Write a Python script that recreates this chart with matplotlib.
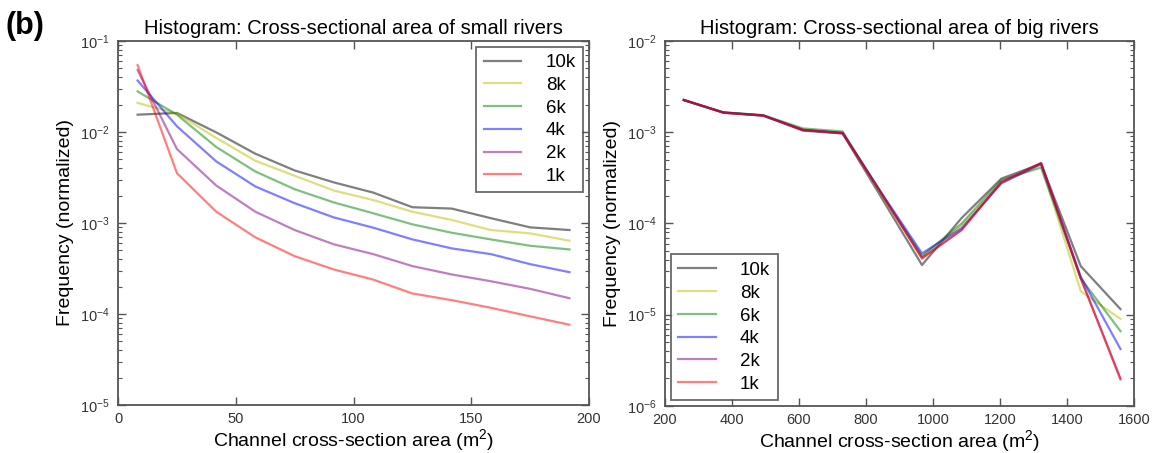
import matplotlib
matplotlib.use("Agg")
import matplotlib.pyplot as plt
from matplotlib.ticker import LogLocator, NullFormatter

plt.rcParams["font.family"] = ["Liberation Sans", "DejaVu Sans"]
plt.rcParams["mathtext.default"] = "regular"

# bin centres (m^2)
small_x = [8.3, 25.0, 41.7, 58.3, 75.0, 91.7, 108.3, 125.0, 141.7, 158.3, 175.0, 191.7]
big_x = [256, 374.5, 493, 611.5, 730, 848.5, 967, 1085.5, 1204, 1322.5, 1441, 1559.5]

labels = ["10k", "8k", "6k", "4k", "2k", "1k"]
colors = ["k", "y", "g", "b", "purple", "r"]

# normalized frequency, small rivers
small_10k = [0.0155, 0.0162, 0.0099, 0.00577, 0.00378, 0.00279, 0.00216, 0.00149, 0.00144, 0.00113, 0.000895, 0.000837]
small_8k = [0.0209, 0.0159, 0.0086, 0.00483, 0.0033, 0.00227, 0.00179, 0.00133, 0.00108, 0.000837, 0.000769, 0.000638]
small_6k = [0.0279, 0.0155, 0.00684, 0.00368, 0.00235, 0.00168, 0.00128, 0.000966, 0.000781, 0.00066, 0.000562, 0.000512]
small_4k = [0.0368, 0.01155, 0.00475, 0.00252, 0.00165, 0.00115, 0.000889, 0.00066, 0.000526, 0.000455, 0.000353, 0.000288]
small_2k = [0.0479, 0.0065, 0.00258, 0.00133, 0.000837, 0.000582, 0.000455, 0.000336, 0.000272, 0.000229, 0.000189, 0.000149]
small_1k = [0.0543, 0.00353, 0.00133, 0.000695, 0.000432, 0.000308, 0.000239, 0.000168, 0.000142, 0.000117, 0.0000942, 0.0000762]

# normalized frequency, big rivers
big_10k = [2.25e-3, 1.65e-3, 1.53e-3, 1.04e-3, 0.97e-3, 1.85e-4, 3.5e-5, 1.15e-4, 3.1e-4, 4.5e-4, 3.4e-5, 1.15e-5]
big_8k = [2.25e-3, 1.64e-3, 1.53e-3, 1.07e-3, 0.99e-3, 2.0e-4, 4.3e-5, 9.5e-5, 2.8e-4, 4.4e-4, 1.8e-5, 9.0e-6]
big_6k = [2.25e-3, 1.65e-3, 1.54e-3, 1.10e-3, 1.02e-3, 2.05e-4, 4.4e-5, 1.0e-4, 3.0e-4, 4.1e-4, 2.5e-5, 6.6e-6]
big_4k = [2.25e-3, 1.64e-3, 1.52e-3, 1.06e-3, 0.98e-3, 2.1e-4, 4.7e-5, 8.9e-5, 2.75e-4, 4.5e-4, 2.6e-5, 4.2e-6]
big_2k = [2.25e-3, 1.64e-3, 1.52e-3, 1.06e-3, 0.98e-3, 2.05e-4, 4.2e-5, 8.5e-5, 2.85e-4, 4.6e-4, 2.5e-5, 2.0e-6]
big_1k = [2.27e-3, 1.63e-3, 1.52e-3, 1.06e-3, 0.97e-3, 2.05e-4, 4.1e-5, 8.5e-5, 2.85e-4, 4.6e-4, 2.5e-5, 1.95e-6]

small_series = [small_10k, small_8k, small_6k, small_4k, small_2k, small_1k]
big_series = [big_10k, big_8k, big_6k, big_4k, big_2k, big_1k]


def style_axes(ax):
    for side in ["top", "bottom", "left", "right"]:
        ax.spines[side].set_linewidth(1.3)
        ax.spines[side].set_color("#555555")
    ax.tick_params(which="both", direction="in", top=True, right=True,
                   colors="#555555", labelcolor="#333333", labelsize=10.5)
    ax.tick_params(which="major", length=6, width=1)
    ax.tick_params(which="minor", length=3, width=0.8)
    ax.tick_params(axis="x", pad=5)
    ax.tick_params(axis="y", pad=6)
    ax.yaxis.set_minor_locator(LogLocator(base=10, subs=range(2, 10), numticks=20))
    ax.yaxis.set_minor_formatter(NullFormatter())
    ax.set_ylabel("Frequency (normalized)", fontsize=14)
    ax.set_xlabel("Channel cross-section area (m$^2$)", fontsize=14, labelpad=1)


def style_legend(leg):
    leg.get_frame().set_edgecolor("#444444")
    leg.get_frame().set_linewidth(1.3)


fig = plt.figure(figsize=(11.54, 4.53), dpi=100)
ax1 = fig.add_axes([0.1023, 0.106, 0.4081, 0.8035])
ax2 = fig.add_axes([0.5763, 0.104, 0.4064, 0.8055])

legend_kw = dict(fontsize=13.5, frameon=True, fancybox=False, borderpad=0.4,
                 labelspacing=0.3, handlelength=2.0, handletextpad=1.3,
                 borderaxespad=0.3)

for ys, lab, c in zip(small_series, labels, colors):
    ax1.plot(small_x, ys, color=c, alpha=0.5, lw=1.6, label=lab)
ax1.set_yscale("log")
ax1.set_xlim(0, 200)
ax1.set_ylim(1e-5, 1e-1)
ax1.set_xticks([0, 50, 100, 150, 200])
ax1.set_title("Histogram: Cross-sectional area of small rivers", fontsize=14.5, pad=5)
style_axes(ax1)
style_legend(ax1.legend(loc="upper right", **legend_kw))

for ys, lab, c in zip(big_series, labels, colors):
    ax2.plot(big_x, ys, color=c, alpha=0.5, lw=1.6, label=lab)
ax2.set_yscale("log")
ax2.set_xlim(200, 1600)
ax2.set_ylim(1e-6, 1e-2)
ax2.set_xticks([200, 400, 600, 800, 1000, 1200, 1400, 1600])
ax2.set_title("Histogram: Cross-sectional area of big rivers", fontsize=14.5, pad=5)
style_axes(ax2)
style_legend(ax2.legend(loc="lower left", **legend_kw))

fig.text(0.005, 0.975, "(b)", fontsize=22, fontweight="bold", va="top", ha="left")

fig.savefig("out.png", dpi=100)
